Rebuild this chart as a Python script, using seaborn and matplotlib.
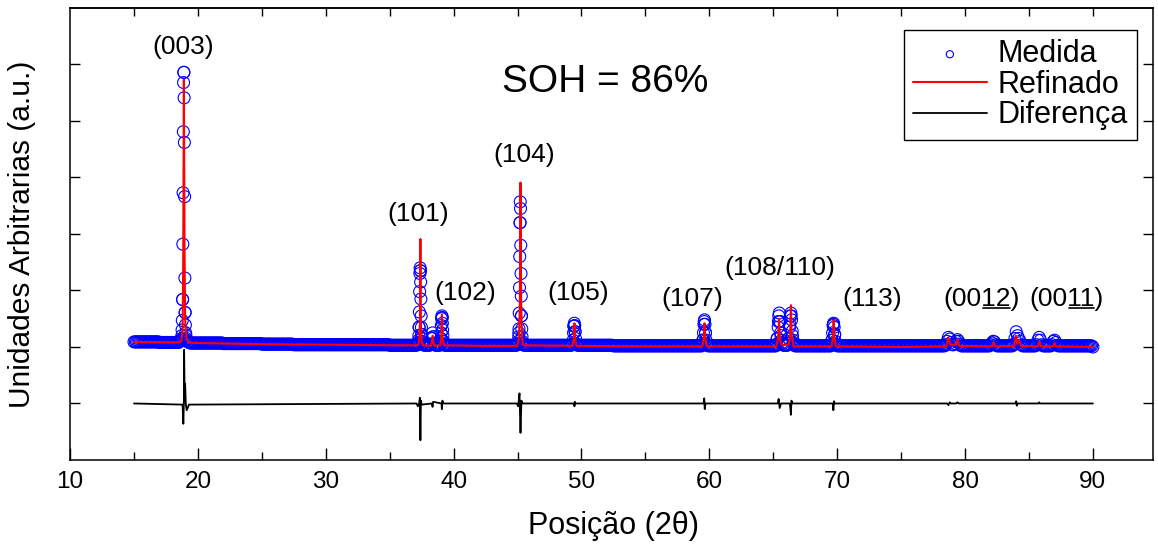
import numpy as np
import pandas as pd
import matplotlib
matplotlib.use("Agg")
import matplotlib.pyplot as plt
import seaborn as sns

# ---------------- data ----------------
# Measured pattern (open circles) on the scan grid 15.0 .. 90.0, step 0.1 deg
meas_grid_x = np.round(np.arange(15.0, 90.0001, 0.1), 2)
meas_grid_y = [
    # 15.0 - 19.9
    0.09, 0.09, 0.09, 0.09, 0.09, 0.09, 0.09, 0.09, 0.09, 0.09,
    0.09, 0.09, 0.09, 0.09, 0.09, 0.09, 0.09, 0.09, 0.09, 0.09,
    0.08, 0.08, 0.08, 0.08, 0.08, 0.08, 0.08, 0.08, 0.08, 0.08,
    0.08, 0.08, 0.08, 0.08, 0.08, 0.08, 0.10, 0.12, 0.84, 4.86,
    0.61, 0.12, 0.09, 0.08, 0.07, 0.07, 0.07, 0.07, 0.07, 0.07,
    # 20.0 - 24.9
    0.07, 0.07, 0.07, 0.07, 0.07, 0.07, 0.07, 0.07, 0.07, 0.07,
    0.07, 0.07, 0.07, 0.07, 0.07, 0.07, 0.07, 0.07, 0.07, 0.07,
    0.06, 0.06, 0.06, 0.06, 0.06, 0.06, 0.06, 0.06, 0.06, 0.06,
    0.06, 0.06, 0.06, 0.06, 0.06, 0.06, 0.06, 0.06, 0.06, 0.06,
    0.06, 0.06, 0.06, 0.06, 0.06, 0.06, 0.06, 0.06, 0.06, 0.06,
    # 25.0 - 29.9
    0.05, 0.05, 0.05, 0.05, 0.05, 0.05, 0.05, 0.05, 0.05, 0.05,
    0.05, 0.05, 0.05, 0.05, 0.05, 0.05, 0.05, 0.05, 0.05, 0.05,
    0.05, 0.05, 0.05, 0.05, 0.05, 0.04, 0.04, 0.04, 0.04, 0.04,
    0.04, 0.04, 0.04, 0.04, 0.04, 0.04, 0.04, 0.04, 0.04, 0.04,
    0.04, 0.04, 0.04, 0.04, 0.04, 0.04, 0.04, 0.04, 0.04, 0.04,
    # 30.0 - 34.9
    0.04, 0.04, 0.04, 0.04, 0.04, 0.04, 0.04, 0.04, 0.04, 0.04,
    0.04, 0.04, 0.04, 0.04, 0.04, 0.04, 0.04, 0.04, 0.04, 0.04,
    0.04, 0.04, 0.04, 0.04, 0.04, 0.04, 0.04, 0.04, 0.04, 0.04,
    0.04, 0.04, 0.04, 0.04, 0.04, 0.04, 0.04, 0.04, 0.04, 0.04,
    0.04, 0.04, 0.04, 0.04, 0.04, 0.04, 0.04, 0.04, 0.04, 0.04,
    # 35.0 - 39.9
    0.03, 0.03, 0.03, 0.03, 0.03, 0.03, 0.03, 0.03, 0.03, 0.03,
    0.03, 0.03, 0.03, 0.03, 0.03, 0.03, 0.03, 0.03, 0.03, 0.03,
    0.03, 0.03, 0.05, 0.35, 1.35, 0.22, 0.05, 0.03, 0.03, 0.03,
    0.03, 0.03, 0.04, 0.15, 0.18, 0.04, 0.03, 0.03, 0.03, 0.03,
    0.15, 0.52, 0.10, 0.03, 0.03, 0.03, 0.03, 0.03, 0.03, 0.03,
    # 40.0 - 44.9
    0.03, 0.03, 0.03, 0.03, 0.03, 0.03, 0.03, 0.03, 0.03, 0.03,
    0.03, 0.03, 0.03, 0.03, 0.03, 0.03, 0.03, 0.03, 0.03, 0.03,
    0.03, 0.03, 0.03, 0.03, 0.03, 0.03, 0.03, 0.03, 0.03, 0.03,
    0.03, 0.03, 0.03, 0.03, 0.03, 0.03, 0.03, 0.03, 0.03, 0.03,
    0.03, 0.03, 0.03, 0.03, 0.03, 0.03, 0.03, 0.03, 0.03, 0.03,
    # 45.0 - 49.9
    0.04, 0.25, 2.20, 0.55, 0.06, 0.03, 0.03, 0.03, 0.03, 0.03,
    0.03, 0.03, 0.03, 0.03, 0.03, 0.03, 0.03, 0.03, 0.03, 0.03,
    0.03, 0.03, 0.03, 0.03, 0.03, 0.03, 0.03, 0.03, 0.03, 0.03,
    0.03, 0.03, 0.03, 0.03, 0.03, 0.03, 0.03, 0.03, 0.03, 0.03,
    0.03, 0.03, 0.03, 0.05, 0.37, 0.27, 0.04, 0.03, 0.03, 0.03,
    # 50.0 - 54.9
    0.03, 0.03, 0.03, 0.03, 0.03, 0.03, 0.03, 0.03, 0.03, 0.03,
    0.03, 0.03, 0.03, 0.03, 0.03, 0.03, 0.03, 0.03, 0.03, 0.03,
    0.03, 0.03, 0.03, 0.03, 0.03, 0.02, 0.02, 0.02, 0.02, 0.02,
    0.02, 0.02, 0.02, 0.02, 0.02, 0.02, 0.02, 0.02, 0.02, 0.02,
    0.02, 0.02, 0.02, 0.02, 0.02, 0.02, 0.02, 0.02, 0.02, 0.02,
    # 55.0 - 59.9
    0.02, 0.02, 0.02, 0.02, 0.02, 0.02, 0.02, 0.02, 0.02, 0.02,
    0.02, 0.02, 0.02, 0.02, 0.02, 0.02, 0.02, 0.02, 0.02, 0.02,
    0.02, 0.02, 0.02, 0.02, 0.02, 0.02, 0.02, 0.02, 0.02, 0.02,
    0.02, 0.02, 0.02, 0.02, 0.02, 0.02, 0.02, 0.02, 0.02, 0.02,
    0.02, 0.02, 0.02, 0.02, 0.02, 0.12, 0.45, 0.25, 0.05, 0.02,
    # 60.0 - 64.9
    0.02, 0.02, 0.02, 0.02, 0.02, 0.02, 0.02, 0.02, 0.02, 0.02,
    0.02, 0.02, 0.02, 0.02, 0.02, 0.02, 0.02, 0.02, 0.02, 0.02,
    0.02, 0.02, 0.02, 0.02, 0.02, 0.02, 0.02, 0.02, 0.02, 0.02,
    0.02, 0.02, 0.02, 0.02, 0.02, 0.02, 0.02, 0.02, 0.02, 0.02,
    0.02, 0.02, 0.02, 0.02, 0.02, 0.02, 0.02, 0.02, 0.02, 0.02,
    # 65.0 - 69.9
    0.02, 0.02, 0.02, 0.15, 0.45, 0.45, 0.20, 0.08, 0.03, 0.03,
    0.03, 0.03, 0.15, 0.40, 0.55, 0.20, 0.07, 0.02, 0.02, 0.02,
    0.02, 0.02, 0.02, 0.02, 0.02, 0.02, 0.02, 0.02, 0.02, 0.02,
    0.02, 0.02, 0.02, 0.02, 0.02, 0.02, 0.02, 0.02, 0.02, 0.02,
    0.02, 0.02, 0.02, 0.02, 0.02, 0.02, 0.12, 0.40, 0.22, 0.05,
    # 70.0 - 74.9
    0.02, 0.02, 0.02, 0.02, 0.02, 0.02, 0.02, 0.02, 0.02, 0.02,
    0.02, 0.02, 0.02, 0.02, 0.02, 0.02, 0.02, 0.02, 0.02, 0.02,
    0.02, 0.02, 0.02, 0.02, 0.02, 0.02, 0.02, 0.02, 0.02, 0.02,
    0.02, 0.02, 0.02, 0.02, 0.02, 0.02, 0.02, 0.02, 0.02, 0.02,
    0.02, 0.02, 0.02, 0.02, 0.02, 0.02, 0.02, 0.02, 0.02, 0.02,
    # 75.0 - 79.9
    0.02, 0.02, 0.02, 0.02, 0.02, 0.02, 0.02, 0.02, 0.02, 0.02,
    0.02, 0.02, 0.02, 0.02, 0.02, 0.02, 0.02, 0.02, 0.02, 0.02,
    0.02, 0.02, 0.02, 0.02, 0.02, 0.02, 0.02, 0.02, 0.02, 0.02,
    0.02, 0.02, 0.02, 0.02, 0.02, 0.04, 0.10, 0.17, 0.14, 0.08,
    0.04, 0.04, 0.06, 0.10, 0.13, 0.10, 0.05, 0.02, 0.02, 0.02,
    # 80.0 - 84.9
    0.02, 0.02, 0.02, 0.02, 0.02, 0.02, 0.02, 0.02, 0.02, 0.02,
    0.02, 0.02, 0.02, 0.02, 0.02, 0.02, 0.02, 0.02, 0.02, 0.02,
    0.04, 0.07, 0.10, 0.09, 0.04, 0.02, 0.02, 0.02, 0.02, 0.02,
    0.02, 0.02, 0.02, 0.02, 0.02, 0.02, 0.02, 0.02, 0.05, 0.15,
    0.27, 0.20, 0.15, 0.10, 0.04, 0.02, 0.02, 0.02, 0.02, 0.02,
    # 85.0 - 89.9
    0.02, 0.02, 0.02, 0.02, 0.02, 0.02, 0.04, 0.12, 0.17, 0.12,
    0.04, 0.02, 0.02, 0.02, 0.02, 0.02, 0.02, 0.02, 0.04, 0.10,
    0.12, 0.08, 0.03, 0.02, 0.02, 0.02, 0.02, 0.02, 0.02, 0.02,
    0.02, 0.02, 0.02, 0.02, 0.02, 0.02, 0.02, 0.02, 0.02, 0.02,
    0.02, 0.02, 0.02, 0.02, 0.02, 0.02, 0.02, 0.02, 0.02, 0.02,
    # 90.0
    0.00,
]

# Extra measured points on the strong reflections (finer spacing)
meas_peak_x = [
    18.70, 18.72, 18.74, 18.76, 18.78, 18.80, 18.82, 18.84, 18.86, 18.88, 18.90,
    18.92, 18.94, 18.96, 18.98, 19.00, 19.02, 19.04, 19.06, 19.08, 19.10,
    37.20, 37.22, 37.24, 37.26, 37.28, 37.30, 37.32, 37.34, 37.36, 37.38, 37.40,
    37.42, 37.44, 37.46, 37.48, 37.50, 37.52, 37.54, 37.56, 37.58,
    38.25, 38.30, 38.35, 38.40, 38.45,
    38.95, 39.00, 39.02, 39.04, 39.06, 39.08, 39.10, 39.12, 39.14, 39.16, 39.20, 39.25,
    45.05, 45.07, 45.09, 45.11, 45.13, 45.15, 45.17, 45.19, 45.21, 45.23, 45.25,
    45.27, 45.29, 45.31, 45.33, 45.35, 45.37, 45.40,
    49.30, 49.35, 49.38, 49.41, 49.44, 49.47, 49.50, 49.53, 49.58,
    59.45, 59.50, 59.54, 59.58, 59.62, 59.66, 59.70, 59.74, 59.80,
    65.25, 65.32, 65.38, 65.43, 65.47, 65.52, 65.58, 65.65, 65.75,
    66.15, 66.22, 66.28, 66.33, 66.38, 66.43, 66.48, 66.55, 66.65,
    69.55, 69.60, 69.64, 69.68, 69.72, 69.76, 69.80, 69.85, 69.90,
]
meas_peak_y = [
    0.12, 0.15, 0.20, 0.30, 0.47, 0.84, 1.82, 2.73, 3.81, 4.68, 4.86,
    4.41, 3.62, 2.66, 1.22, 0.61, 0.39, 0.25, 0.20, 0.15, 0.12,
    0.05, 0.06, 0.08, 0.12, 0.20, 0.35, 0.62, 0.98, 1.30, 1.40, 1.35,
    1.15, 0.85, 0.55, 0.35, 0.22, 0.15, 0.10, 0.07, 0.05,
    0.05, 0.15, 0.25, 0.18, 0.06,
    0.06, 0.15, 0.25, 0.38, 0.50, 0.55, 0.52, 0.42, 0.30, 0.20, 0.10, 0.05,
    0.06, 0.10, 0.18, 0.32, 0.60, 1.05, 1.60, 2.20, 2.57, 2.45, 1.80,
    1.30, 0.90, 0.55, 0.32, 0.18, 0.10, 0.06,
    0.05, 0.12, 0.25, 0.37, 0.42, 0.38, 0.27, 0.15, 0.06,
    0.05, 0.12, 0.25, 0.40, 0.48, 0.40, 0.25, 0.12, 0.05,
    0.05, 0.15, 0.35, 0.55, 0.60, 0.45, 0.25, 0.12, 0.06,
    0.06, 0.15, 0.35, 0.55, 0.60, 0.48, 0.28, 0.12, 0.05,
    0.05, 0.12, 0.25, 0.38, 0.42, 0.35, 0.22, 0.10, 0.05,
]

# Refined profile (red line) vertices
calc_x = [
    15.0, 18.50, 18.70, 18.80, 18.85, 18.90, 18.95, 19.00, 19.10, 19.30, 20.0, 25.0, 30.0,
    35.0, 37.20, 37.30, 37.36, 37.40, 37.44, 37.50, 37.60, 38.20, 38.30, 38.36, 38.42,
    38.50, 38.95, 39.03, 39.08, 39.13, 39.25, 42.0, 45.00, 45.12, 45.18, 45.23, 45.28,
    45.35, 45.45, 49.30, 49.40, 49.45, 49.50, 49.60, 55.0, 59.45, 59.56, 59.62, 59.68,
    59.80, 65.25, 65.38, 65.45, 65.52, 65.65, 66.20, 66.32, 66.38, 66.44, 66.60, 69.55,
    69.66, 69.72, 69.78, 69.90, 75.0, 78.55, 78.70, 78.85, 79.30, 79.40, 79.55, 82.10,
    82.22, 82.35, 83.85, 83.97, 84.08, 84.22, 84.35, 85.70, 85.82, 85.95, 86.90, 87.00,
    87.10, 90.0,
]
calc_y = [
    0.09, 0.08, 0.10, 0.30, 1.50, 4.73, 1.80, 0.50, 0.15, 0.08, 0.07, 0.05, 0.04,
    0.03, 0.03, 0.10, 0.40, 1.91, 0.40, 0.10, 0.03, 0.02, 0.08, 0.20, 0.08,
    0.02, 0.03, 0.15, 0.57, 0.15, 0.03, 0.02, 0.02, 0.20, 0.80, 2.91, 0.80,
    0.15, 0.03, 0.02, 0.15, 0.42, 0.15, 0.02, 0.01, 0.01, 0.15, 0.42, 0.15,
    0.01, 0.01, 0.15, 0.50, 0.15, 0.04, 0.04, 0.20, 0.74, 0.20, 0.01, 0.01,
    0.15, 0.48, 0.15, 0.01, 0.00, 0.01, 0.17, 0.04, 0.04, 0.13, 0.02, 0.01,
    0.08, 0.01, 0.02, 0.20, 0.06, 0.12, 0.02, 0.01, 0.10, 0.01, 0.01, 0.07,
    0.01, 0.00,
]

# Difference curve (observed - calculated), drawn with an offset of -1
diff_x = [
    15.0, 18.80, 18.86, 18.90, 18.92, 18.96, 19.00, 19.05, 19.12, 19.30, 37.10, 37.20,
    37.30, 37.36, 37.40, 37.44, 37.50, 38.30, 38.35, 38.40, 39.05, 39.08, 39.12, 39.20,
    44.95, 45.05, 45.15, 45.23, 45.30, 45.40, 49.42, 49.45, 49.48, 49.55, 59.55, 59.60,
    59.64, 59.70, 65.35, 65.42, 65.50, 65.60, 66.30, 66.38, 66.42, 66.50, 69.65, 69.70,
    69.75, 69.80, 78.60, 78.70, 78.80, 78.90, 79.30, 79.40, 79.50, 83.95, 84.00, 84.05,
    84.10, 85.75, 85.80, 85.85, 90.0,
]
diff_y = [
    -1.00, -1.02, -1.36, -1.00, -0.05, -0.80, -0.65, -1.00, -1.12, -1.02, -1.00, -1.05,
    -1.00, -0.90, -1.65, -0.95, -1.02, -1.00, -1.06, -0.97, -1.00, -1.10, -0.95, -1.00,
    -1.00, -1.05, -0.82, -1.52, -0.95, -1.00, -1.00, -1.05, -0.97, -1.00, -1.00, -0.91,
    -1.10, -1.00, -1.00, -0.92, -1.08, -1.00, -1.00, -1.20, -0.95, -1.00, -1.00, -1.12,
    -0.96, -1.00, -1.00, -1.03, -0.98, -1.00, -1.00, -0.98, -1.00, -1.00, -0.96, -1.04,
    -1.00, -1.00, -0.98, -1.00, -1.00,
]

# Reflection labels
hkl_labels = ["(003)", "(101)", "(102)", "(104)", "(105)", "(107)", "(108/110)", "(113)"]
hkl_x = [18.83, 37.21, 40.88, 45.50, 49.72, 58.63, 65.51, 72.71]
hkl_y = [5.31, 2.35, 0.96, 3.40, 0.96, 0.85, 1.40, 0.85]
# labels with an underlined part: (prefix, underlined, suffix)
hkl_under = [("(00", "12", ")"), ("(00", "11", ")")]
hkl_under_x = [81.30, 87.95]
hkl_under_y = [0.85, 0.85]

soh_text = "SOH = 86%"
soh_x, soh_y = 51.83, 4.69

x_ticks = [10, 20, 30, 40, 50, 60, 70, 80, 90]

# ---------------- figure ----------------
sns.set_style("ticks")
plt.rcParams["font.family"] = ["Liberation Sans", "DejaVu Sans"]
for key in ["text.color", "axes.labelcolor", "xtick.color", "ytick.color", "axes.edgecolor"]:
    plt.rcParams[key] = "black"

fig = plt.figure(figsize=(11.58, 5.45), dpi=100)
ax = fig.add_axes([0.0605, 0.156, 0.9352, 0.8294])

meas_df = pd.DataFrame({
    "x": np.concatenate([meas_grid_x, meas_peak_x]),
    "y": np.concatenate([meas_grid_y, meas_peak_y]),
})
calc_df = pd.DataFrame({"x": calc_x, "y": calc_y})
diff_df = pd.DataFrame({"x": diff_x, "y": diff_y})

sns.scatterplot(data=meas_df, x="x", y="y", ax=ax, marker="o", s=74,
                facecolor="none", edgecolor="#0000FF", linewidth=0.8,
                label="Medida", zorder=2)
sns.lineplot(data=calc_df, x="x", y="y", ax=ax, estimator=None, sort=False,
             color="#FF0000", linewidth=1.5, label="Refinado", zorder=3)
sns.lineplot(data=diff_df, x="x", y="y", ax=ax, estimator=None, sort=False,
             color="black", linewidth=1.3, label="Diferença", zorder=3)

ax.set_xlim(10, 94.7)
ax.set_ylim(-2, 6)
ax.set_xticks(x_ticks)
ax.set_xticks(np.arange(15, 95, 10), minor=True)
ax.set_yticks(np.arange(-1, 6, 1))
ax.set_yticklabels([])

for sp in ax.spines.values():
    sp.set_visible(True)
    sp.set_linewidth(1.1)
    sp.set_color("black")

ax.tick_params(axis="x", which="major", direction="in", length=9, width=1.0,
               labelsize=17.5, pad=8, bottom=True, top=False)
ax.tick_params(axis="x", which="minor", direction="in", length=6, width=1.0,
               bottom=True, top=False)
ax.tick_params(axis="y", which="major", direction="in", length=7, width=1.0,
               left=True, right=True)

secax = ax.secondary_xaxis("top")
secax.set_xticks(np.arange(15, 95, 5))
secax.tick_params(direction="in", length=6, width=1.0, labeltop=False)
secax.spines["top"].set_linewidth(1.1)

ax.set_xlabel("Posição (2θ)", fontsize=22)
ax.set_ylabel("Unidades Arbitrarias (a.u.)", fontsize=21.5)
ax.xaxis.set_label_coords(0.502, -0.113)
ax.yaxis.set_label_coords(-0.0314, 0.5)

for lab, lx, ly in zip(hkl_labels, hkl_x, hkl_y):
    ax.text(lx, ly, lab, fontsize=19, ha="center", va="center")

ax.text(soh_x, soh_y, soh_text, fontsize=28, ha="center", va="center")

# underlined labels
fig.canvas.draw()
renderer = fig.canvas.get_renderer()
inv = ax.transData.inverted()
for (pre, und, suf), lx, ly in zip(hkl_under, hkl_under_x, hkl_under_y):
    t = ax.text(lx, ly, pre + und + suf, fontsize=19, ha="center", va="center")
    bb = t.get_window_extent(renderer)
    prop = t.get_fontproperties()
    w_pre, _, _ = renderer.get_text_width_height_descent(pre, prop, ismath=False)
    w_und, _, _ = renderer.get_text_width_height_descent(pre + und, prop, ismath=False)
    _, _, desc = renderer.get_text_width_height_descent(pre + und + suf, prop, ismath=False)
    base = bb.y0 + desc - 2.0
    (x0, y0) = inv.transform((bb.x0 + w_pre + 1, base))
    (x1, _) = inv.transform((bb.x0 + w_und - 1, base))
    ax.plot([x0, x1], [y0, y0], color="black", linewidth=1.2)

handles, labels = ax.get_legend_handles_labels()
leg = ax.legend(handles, labels, loc="upper right", bbox_to_anchor=(0.985, 0.951),
                borderaxespad=0, fontsize=22, frameon=True, fancybox=False,
                edgecolor="black", framealpha=1, markerscale=0.6,
                handlelength=2.4, handletextpad=0.35, labelspacing=0.02,
                borderpad=0.3, scatterpoints=1)
leg.get_frame().set_linewidth(1.0)

fig.savefig("out.png", dpi=100)
